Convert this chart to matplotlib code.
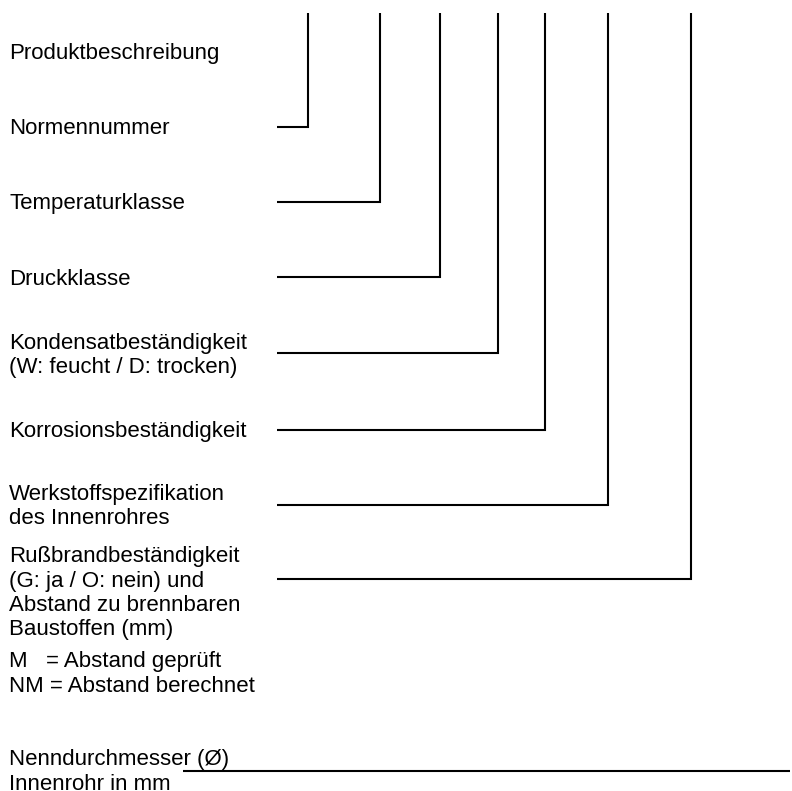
import matplotlib
matplotlib.use("Agg")
import matplotlib.pyplot as plt

# Labels (each entry: list of text lines) and the baseline of their first line (px from top)
labels = [
    ["Produktbeschreibung"],
    ["Normennummer"],
    ["Temperaturklasse"],
    ["Druckklasse"],
    ["Kondensatbeständigkeit", "(W: feucht / D: trocken)"],
    ["Korrosionsbeständigkeit"],
    ["Werkstoffspezifikation", "des Innenrohres"],
    ["Rußbrandbeständigkeit", "(G: ja / O: nein) und", "Abstand zu brennbaren", "Baustoffen (mm)"],
    ["M   = Abstand geprüft", "NM = Abstand berechnet"],
    ["Nenndurchmesser (Ø)", "Innenrohr in mm"],
]
label_baselines = [59, 134.5, 209.5, 285, 348.5, 436.5, 500, 562, 667, 765]

# Connector lines: horizontal level and the x of the vertical leg
connector_y = [127, 201.7, 277, 352.7, 429.7, 504.7, 578.7]
connector_x = [308, 380, 440, 497.7, 544.7, 607.7, 690.7]
connector_start_x = 277
connector_top_y = 13

# Separate bottom line (Nenndurchmesser)
bottom_line_y = 771
bottom_line_x = [183, 790]

W, H = 792, 791
fig = plt.figure(figsize=(W / 100, H / 100), dpi=100)
ax = fig.add_axes([0, 0, 1, 1])
ax.set_xlim(0, W)
ax.set_ylim(H, 0)
ax.axis("off")

line_step = 24.5
for lines, y0 in zip(labels, label_baselines):
    for i, t in enumerate(lines):
        ax.text(9, y0 + i * line_step, t, fontsize=16, family=["Liberation Sans", "DejaVu Sans"],
                va="baseline", ha="left", color="black")

lw = 1.5
for y, x in zip(connector_y, connector_x):
    ax.plot([connector_start_x, x, x], [y, y, connector_top_y], color="black", lw=lw,
            solid_joinstyle="miter", solid_capstyle="butt")

ax.plot(bottom_line_x, [bottom_line_y, bottom_line_y], color="black", lw=lw, solid_capstyle="butt")

fig.savefig("out.png", dpi=100, facecolor="white")
